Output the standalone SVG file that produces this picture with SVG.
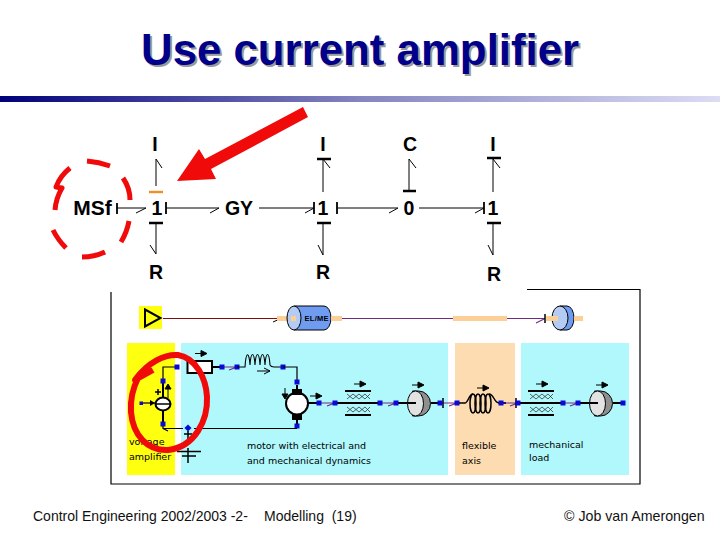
<svg xmlns="http://www.w3.org/2000/svg" xmlns:xlink="http://www.w3.org/1999/xlink" width="720" height="540" viewBox="0 0 720 540">
<style>
text{font-family:"Liberation Sans",Arial,sans-serif;fill:#000}
.bg{font-size:19.5px;font-weight:bold;text-anchor:middle}
.ft{font-size:14px;fill:#111}
.sm{font-family:"DejaVu Sans",sans-serif;font-size:9.5px;fill:#000}
.bond{fill:none;stroke:#000;stroke-width:1}
.bar{fill:none;stroke:#000;stroke-width:2.4}
.thin{fill:none;stroke:#000;stroke-width:1.2}
.thick{fill:none;stroke:#000;stroke-width:2}
.pur{fill:none;stroke:#702a80;stroke-width:1.1}
.red{fill:none;stroke:#f00a0a;stroke-width:6;stroke-linecap:butt;stroke-linejoin:round}
.blue{fill:#0a0ad8}
.pch{fill:#fbcf96}
</style>
<defs>
<linearGradient id="g" x1="0" x2="1" y1="0" y2="0"><stop offset="0" stop-color="#00007a"/><stop offset="0.5" stop-color="#8585c0"/><stop offset="1" stop-color="#dcdcf4"/></linearGradient>
<rect id="b" class="blue" x="-2.500" y="-2.500" width="5" height="5"/>
<path id="af" d="M-6,0H1M0,-3L6,0L0,3Z" fill="#000" stroke="#000" stroke-width="1"/>
<g id="bear"><path d="M0,0H26M0,24H26" stroke="#000" stroke-width="2" fill="none"/><path d="M2,3L8,8L14,3L20,8L25,3M2,8L8,3L14,8L20,3L25,8M2,16L8,21L14,16L20,21L25,16M2,21L8,16L14,21L20,16L25,21" stroke="#222" stroke-width="0.7" fill="none"/></g>
<g id="inert"><path d="M0,-12.500H6A12,12.500 0 0 1 6,12.500H0Z" fill="#8f8f8f" stroke="#000" stroke-width="1"/><ellipse cx="3" cy="0" rx="8" ry="12.500" fill="#e2e2e2" stroke="#000" stroke-width="1"/></g>
</defs>

<g id="title">
<text x="141" y="65" font-size="43.800" font-weight="bold" style="fill:#00008a;text-shadow:2px 2px 0 #9a9a9a">Use current amplifier</text>
</g>
<rect x="0" y="96" width="720" height="6" fill="url(#g)"/>

<g id="connectors">
<path class="bond" d="M117,208H146M136,213L146,208M166,208H219M210,213L219,208M259,208H314M305,213L314,208M337,208H398M389,213L398,208M419,208H484M475,213L484,208"/>
<path class="bond" d="M156,186V159L162,168M156,223V254L150,245M323,192V159L330,168M323,223V255L318,245M409,159V191M409,159L416,168M493,192V159L500,168M493,223V255L488,245"/>
<path class="bar" d="M117,203V214M166,202V214M314,202V214M337,202V214M484,202V214" style="stroke-width:1.800"/>
<path class="bar" d="M149,223H163M317,159H331M317,223H331M403,191H416M487,158H501M487,223H501"/>
<path d="M149,192H163" fill="none" stroke="#f09020" stroke-width="2.400"/>
</g>
<g id="msf"><text class="bg" x="92.500" y="215" style="font-size:21px">MSf</text></g>
<g id="j1a"><text class="bg" x="157" y="215">1</text></g>
<g id="ia"><text class="bg" x="155" y="151">I</text></g>
<g id="ra"><text class="bg" x="156" y="279">R</text></g>
<g id="gy"><text class="bg" x="239" y="215">GY</text></g>
<g id="j1b"><text class="bg" x="323" y="215">1</text></g>
<g id="ib"><text class="bg" x="323" y="151">I</text></g>
<g id="rb"><text class="bg" x="323" y="279">R</text></g>
<g id="j0"><text class="bg" x="409" y="215">0</text></g>
<g id="c"><text class="bg" x="410" y="151">C</text></g>
<g id="j1c"><text class="bg" x="493" y="215">1</text></g>
<g id="ic"><text class="bg" x="493" y="151">I</text></g>
<g id="rc"><text class="bg" x="494" y="281">R</text></g>

<g id="frame"><path d="M111,292V484H640V289.500H527" fill="none" stroke="#000" stroke-width="1.200"/></g>
<g id="panels">
<rect x="127" y="343" width="48" height="132" fill="#ffff10"/>
<rect x="181" y="343" width="267" height="132" fill="#b0f8fc"/>
<rect x="455" y="343" width="60" height="132" fill="#fcdcb0"/>
<rect x="521" y="343" width="108" height="132" fill="#b0f8fc"/>
</g>

<g id="source">
<rect x="139" y="306" width="23" height="23" fill="#ffff10"/>
<path d="M145,309.500L160.500,318L145,326.500Z" fill="none" stroke="#000" stroke-width="2"/>
</g>
<g id="top-line">
<path d="M163,318.500H282" fill="none" stroke="#801010" stroke-width="1.100"/>
<path d="M273,322L282,318" class="bond"/>
<rect x="277" y="316" width="19" height="5" class="pch"/>
<path class="pur" d="M342,318.500H453M507,318.500H545M536,323L545,318.500"/>
<rect x="453" y="316" width="54" height="5" class="pch"/>
<path d="M545,314V323" class="bar" style="stroke-width:1.500"/>
</g>
<g id="elme">
<path d="M294,306H324A7,12 0 0 1 324,330H294Z" fill="#6f9cf0" stroke="#000"/>
<ellipse cx="294" cy="318" rx="7" ry="12" fill="#b4ccf4" stroke="#000"/>
<rect x="291" y="316" width="5" height="5" class="pch"/>
<rect x="331" y="316" width="11" height="5" class="pch"/>
<text x="304.500" y="321" font-size="7.500" font-weight="bold" letter-spacing="0.300">EL/ME</text>
</g>
<g id="load-inertia">
<path d="M560,306H567A7,12 0 0 1 567,330H560Z" fill="#6f9cf0" stroke="#000"/>
<ellipse cx="560" cy="318" rx="8" ry="12" fill="#b4ccf4" stroke="#000"/>
<rect x="546" y="316" width="12" height="5" class="pch"/>
<rect x="574" y="316" width="9" height="5" class="pch"/>
</g>

<g id="amplifier">
<path class="thin" d="M177,367H163V381"/>
<path class="thick" d="M163,381V398M163,410V424"/>
<ellipse cx="163" cy="404" rx="7.500" ry="6.500" fill="#fff" stroke="#000" stroke-width="2"/>
<path d="M156,404H170" stroke="#000" stroke-width="1.500"/>
<rect x="139.500" y="401.500" width="3.500" height="3.500" class="blue"/>
<path class="thin" d="M143,403H155"/><path d="M150,400L155,403L150,406Z"/>
<path d="M155,392H161M158,389V395" stroke="#000" stroke-width="1.500"/>
<path d="M168,398V388M165,389L168,384L171,389Z" stroke="#000" fill="#000"/>
<use xlink:href="#b" href="#b" x="163" y="381"/>
<use xlink:href="#b" href="#b" x="163" y="424"/>
<use xlink:href="#b" href="#b" x="177" y="367"/>
</g>
<g id="resistor">
<rect x="187.500" y="361" width="24.500" height="12" fill="#fff" stroke="#000" stroke-width="2"/>
<use xlink:href="#af" href="#af" x="201" y="353.500"/>
<path class="thick" d="M212,367H222"/>
<path class="pur" d="M222,367H237M229,370L237,367"/>
<use xlink:href="#b" href="#b" x="222" y="367"/>
<use xlink:href="#b" href="#b" x="237" y="367"/>
</g>
<g id="inductor">
<path d="M237,367H245C246,351 249,351 250,365C251,351 254,351 255,365C256,351 259,351 260,365C261,351 264,351 265,365C266,351 269,351 270,365C271,367 272,367 274,367H283" fill="none" stroke="#000" stroke-width="1.100"/>
<path d="M257,371H270M264,368L270,371L264,374" fill="none" stroke="#000" stroke-width="1"/>
<use xlink:href="#b" href="#b" x="283" y="367"/>
</g>
<g id="motor">
<path class="thin" d="M283,367H297V382"/>
<use xlink:href="#b" href="#b" x="297" y="382"/>
<path class="thick" d="M297,385V392M297,415V426"/>
<circle cx="297" cy="403.500" r="11" fill="#fff" stroke="#000" stroke-width="2"/>
<rect x="292" y="389" width="10" height="6"/><rect x="292" y="414" width="10" height="6"/>
<path d="M285,388V397M282,394L285,399L288,394Z" stroke="#000" fill="#000"/>
<use xlink:href="#af" href="#af" x="316" y="396"/>
<use xlink:href="#b" href="#b" x="297" y="426"/>
</g>
<g id="return-ground">
<path class="thin" d="M297,428.500H194M183,428.500H163V426M163,428.500L168,431"/>
<rect x="185.500" y="425.500" width="5" height="5" class="blue" transform="rotate(45 188 428)"/>
<path d="M188,431V440M184,434H192M188,448V463" fill="none" stroke="#000" stroke-width="1.500"/>
<path d="M177,451.500H201M182,456H196" stroke="#000" stroke-width="1.700"/>
</g>
<g id="shaft">
<path class="thick" d="M308,403H319M335,403H380M396,403H416M431,403H440M501,403H506M518,403H563M578,403H595M613,403H623"/>
<path class="pur" d="M319,403H335M327,406L335,403M380,403H396M388,406L396,403M440,403H457M449,406L457,403M501,403H518M510,406L518,403M563,403H578M570,406L578,403"/>
<path class="bar" d="M443,398V408M516,398V408" style="stroke-width:1.500"/>
<use xlink:href="#b" href="#b" x="319" y="403"/>
<use xlink:href="#b" href="#b" x="335" y="403"/>
<use xlink:href="#b" href="#b" x="380" y="403"/>
<use xlink:href="#b" href="#b" x="396" y="403"/>
<use xlink:href="#b" href="#b" x="440" y="403"/>
<use xlink:href="#b" href="#b" x="457" y="403"/>
<use xlink:href="#b" href="#b" x="501" y="403"/>
<use xlink:href="#b" href="#b" x="518" y="403"/>
<use xlink:href="#b" href="#b" x="563" y="403"/>
<use xlink:href="#b" href="#b" x="578" y="403"/>
<use xlink:href="#b" href="#b" x="623" y="403"/>
</g>
<g id="bearing1"><use xlink:href="#bear" href="#bear" x="345" y="391"/><use xlink:href="#af" href="#af" x="360" y="384"/></g>
<g id="bearing2"><use xlink:href="#bear" href="#bear" x="528" y="391"/><use xlink:href="#af" href="#af" x="542" y="384"/></g>
<g id="inertia1"><use xlink:href="#inert" href="#inert" x="412.500" y="403.500"/><path class="thick" d="M408,403H416"/><use xlink:href="#af" href="#af" x="418" y="385"/></g>
<g id="inertia2"><use xlink:href="#inert" href="#inert" x="594.500" y="403.500"/><path class="thick" d="M590,403H598"/><use xlink:href="#af" href="#af" x="602" y="385"/></g>
<g id="spring">
<path d="M459,403H465C468,403 469,394 473,394M489,394C494,394 494,403 499,403" fill="none" stroke="#000" stroke-width="1.500"/>
<g fill="none" stroke="#000" stroke-width="1.500"><ellipse cx="473" cy="403.500" rx="3" ry="9.500"/><ellipse cx="478" cy="403.500" rx="3" ry="9.500"/><ellipse cx="483" cy="403.500" rx="3" ry="9.500"/><ellipse cx="488" cy="403.500" rx="3" ry="9.500"/></g>
<use xlink:href="#af" href="#af" x="483" y="388"/>
</g>
<g id="labels">
<text class="sm" x="129" y="445">voltage</text>
<text class="sm" x="129" y="460">amplifier</text>
<text class="sm" x="247" y="449">motor with electrical and</text>
<text class="sm" x="247" y="464">and mechanical dynamics</text>
<text class="sm" x="462" y="449">flexible</text>
<text class="sm" x="462" y="464">axis</text>
<text class="sm" x="529" y="448">mechanical</text>
<text class="sm" x="529" y="461">load</text>
</g>
<g id="highlights">
<path d="M303,107L308,117L211,169L216,179L177,181L199,149L205,159Z" fill="#f00a0a" stroke="none"/>
<path class="red" style="stroke-width:5" d="M87,161Q99,162 110,166M123,178Q130,188 130,200M129,221Q127,232 121,242M105,252Q94,257 82,257M66,248Q58,240 53,230M55,210Q56,198 62,188L56,187Q60,176 70,168"/>
<path class="red" d="M153,370L135,380C148,362 165,354 178,355C196,358 206,378 207,397C208,420 195,447 168,450C148,451 133,436 131,412C130,398 133,388 138,378"/>
</g>
<g id="footer">
<text class="ft" x="33" y="521">Control Engineering 2002/2003 -2-</text>
<text class="ft" x="264" y="521" xml:space="preserve">Modelling  (19)</text>
<text class="ft" x="564" y="521" style="font-size:14.2px">© Job van Amerongen</text>
</g>
</svg>
